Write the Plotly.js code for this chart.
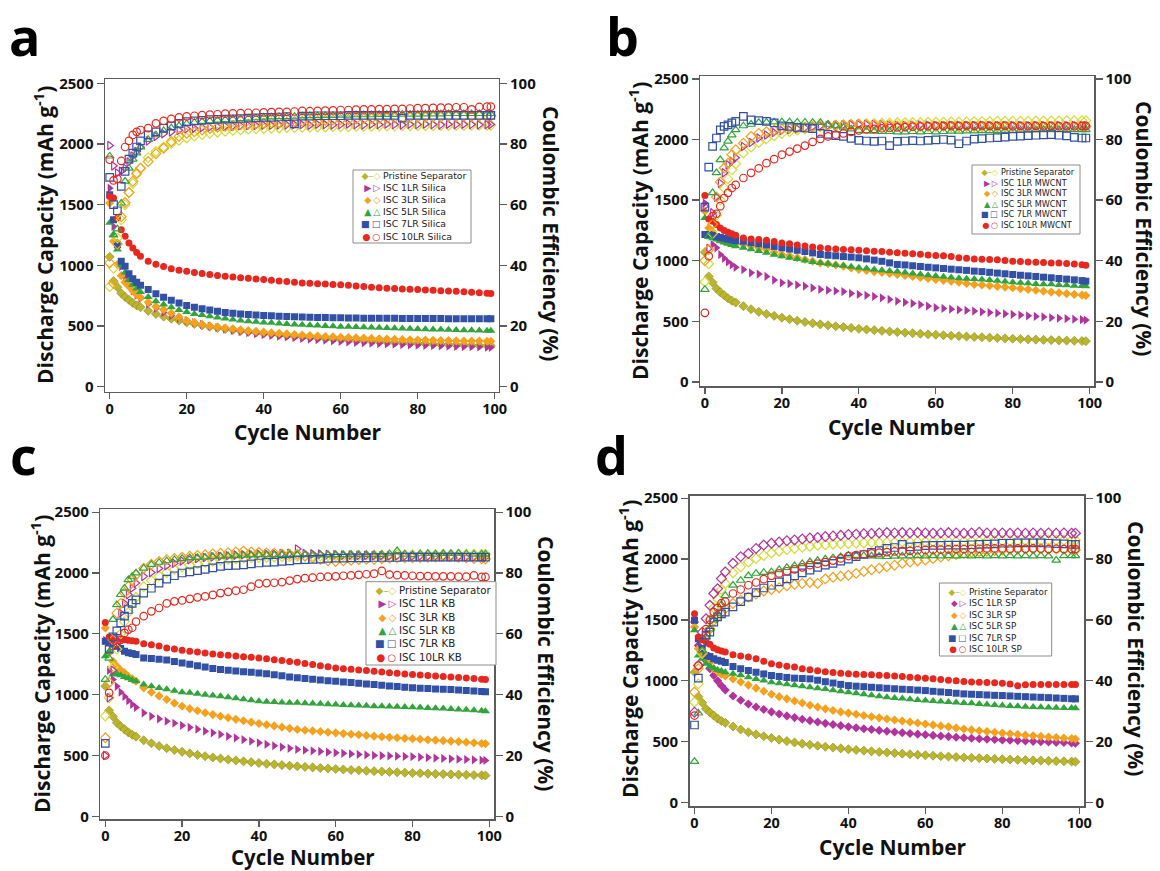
<!DOCTYPE html>
<html><head><meta charset="utf-8">
<script src="https://cdn.plot.ly/plotly-3.0.1.min.js"></script>
<style>html,body{margin:0;padding:0;background:#fff}#chart{width:1160px;height:871px}</style>
</head><body><div id="chart"></div>
<script>
// ---------------- DATA ----------------
const cycles = [0,1,2,3,4,5,6,7,8,
 10,12,14,16,18,20,22,24,26,28,30,32,34,36,38,40,42,44,46,48,50,52,54,56,58,60,62,64,66,68,70,72,74,76,78,80,82,84,86,88,90,92,94,96,98,
 99];

const seriesLabels = ['Pristine Separator','ISC 1LR','ISC 3LR','ISC 5LR','ISC 7LR','ISC 10LR'];
const panelSuffix = ['Silica','MWCNT','KB','SP'];
const panelLetters = ['a','b','c','d'];
const capTickVals = [0,500,1000,1500,2000,2500];
const ceTickVals = [0,20,40,60,80,100];
const cycleTickVals = [0,20,40,60,80,100];

// Pristine separator (same cell in every panel)
const pristineCap = [1070,870,820,770,740,715,690,670,655,
 625,600,578,560,545, 530,517,505,494,484, 475,467,459,452,445, 438,432,427,421,416, 411,406,402,397,393, 389,385,381,378,374, 371,368,365,362,359, 356,354,351,349,347, 345,343,341,339,337,
 336];
const pristineCE = [33,39,49,55,60,64,67,70,72,
 75.5,77.5,79,80.2,81.2, 82,82.6,83.1,83.5,83.9, 84.2,84.5,84.7,84.9,85, 85.1,85.2,85.3,85.4,85.4, 85.5,85.5,85.6,85.6,85.7, 85.7,85.7,85.8,85.8,85.8, 85.9,85.9,85.9,86,86, 86,86,86,86.1,86.1, 86.1,86.1,86.2,86.2,86.2,
 86.2];

// Panel a : Silica
const a1Cap = [1636,1321,1150,990,900,840,790,755,725,
 680,645,612,585,563, 545,528,513,500,487, 475,464,454,445,437, 430,423,416,410,404, 398,393,388,383,378, 373,369,365,362,358, 355,352,350,347,345, 343,341,339,337,335, 333,331,330,328,326,
 325];
const a3Cap = [1513,1198,1006,915,860,828,790,760,735,
 695,660,635,605,575, 545,530,515,502,493, 485,477,469,462,456, 450,445,440,435,430, 425,421,418,414,411, 408,405,403,400,398, 395,393,391,389,387, 385,384,382,381,380, 378,377,376,376,375,
 375];
const a5Cap = [1350,1250,1130,1000,940,880,840,810,780,
 740,705,678,655,633, 615,600,590,580,570, 561,553,546,540,535, 530,526,521,517,513, 510,507,504,501,498, 495,493,491,489,487, 485,483,481,479,477, 475,474,472,471,470, 468,466,465,463,461,
 460];
const a7Cap = [1582,1376,1170,1033,992,930,890,860,835,
 800,765,738,712,690, 670,655,643,633,622, 612,605,600,595,591, 587,584,581,578,576, 574,572,571,570,569, 568,567,566,565,564, 564,563,563,562,562, 562,561,561,561,560, 560,560,560,559,559,
 559];
const a10Cap = [1568,1554,1390,1294,1239,1184,1143,1105,1074,
 1033,1010,990,972,960, 951,942,933,925,917, 910,904,898,893,888, 883,877,871,866,860, 855,852,849,846,843, 840,835,830,825,820, 815,812,809,806,803, 800,797,794,791,788, 786,783,779,775,770,
 767];
const a1CE = [79.5,72.8,70.4,71,72,74,76,77.5,79,
 81,82.5,83.4,84,84.5, 85,85.2,85.4,85.5,85.7, 85.8,85.9,86,86.1,86.1, 86.2,86.2,86.3,86.3,86.4, 86.4,86.2,86.5,86.4,86.3, 86.4,86.6,86.4,86.3,86.5, 86.4,86.6,86.4,86.3,86.5, 86.4,86.6,86.4,86.3,86.5, 86.4,86.5,86.4,86.3,86.4,
 86.4];
const a3CE = [40.8,34,47,56,60.7,64,67.7,70.4,72,
 74.2,76.8,78.6,80.8,82.5, 83.5,84,84.6,85.1,85.5, 85.8,86,86.3,86.5,86.7, 86.8,87,87.1,87.2,87.4, 87.5,87.6,87.7,87.8,87.9, 88,88.1,88.2,88.3,88.4, 88.4,88.5,88.6,88.6,88.7, 88.8,88.8,88.9,88.9,89, 89,89.1,89.1,89.2,89.2,
 89.2];
const a5CE = [76,50,52,60.5,67.7,72,75,77,79,
 81.5,83,84.4,85.3,86, 86.7,87.1,87.4,87.6,87.8, 88,88.2,88.3,88.5,88.6, 88.8,88.9,89,89,89.1, 89.2,89.3,89.3,89.4,89.4, 89.5,89.5,89.6,89.6,89.6, 89.7,89.7,89.7,89.8,89.8, 89.8,89.9,89.9,89.9,90, 90,90,90,90,90,
 90];
const a7CE = [69,60,58,66,71,75,77,79,81,
 83,84,85.2,86,86.8, 87.4,87.6,87.8,88,88.1, 88.2,88.3,88.4,88.5,88.6, 88.8,88.8,88.9,89,86.6, 89.2,89.2,89.3,89.3,89.3, 89.3,89.4,89.4,89.4,89.4, 89.4,89.4,89.4,88.5,89.4, 89.4,89.4,89.4,89.4,89.4, 89.4,89.4,89.4,89.4,89.4,
 89.4];
const a10CE = [74.8,68,68.5,74.4,79,81,83,84,84.6,
 85.2,86.8,87.6,88.3,88.8, 89.1,89.3,89.5,89.7,89.8, 90,90.1,90.2,90.3,90.3, 90.4,90.5,90.6,90.6,90.7, 90.9,90.8,90.9,91,91.1, 91.2,91.2,91.3,91.4,91.4, 91.5,91.5,91.6,91.6,91.7, 91.8,91.8,91.9,92,92, 92.1,92.1,91.4,92.2,92.3,
 92.3];

// Panel b : MWCNT
const b1Cap = [1476,1210,1133,1106,1051,1020,990,965,945,
 927,900,890,870,840, 818,810,800,790,775, 763,757,750,745,730, 722,714,705,694,680, 667,657,647,637,626, 612,606,600,595,590, 584,578,572,567,562, 557,551,545,540,536, 530,526,522,517,513,
 510];
const b3Cap = [1408,1270,1240,1188,1175,1160,1152,1145,1140,
 1133,1120,1105,1090,1070, 1051,1040,1025,1010,995, 982,975,965,955,940, 927,920,910,903,895, 886,878,870,862,854, 845,838,830,822,812, 804,800,794,788,782, 777,770,763,756,748, 741,735,728,722,716,
 713];
const b5Cap = [1353,1202,1185,1175,1160,1150,1140,1130,1120,
 1106,1095,1080,1065,1050, 1037,1025,1015,1002,990, 982,974,965,958,950, 941,935,928,922,916, 910,902,895,888,880, 873,868,862,856,852, 850,845,840,835,829, 823,818,813,808,806, 805,800,797,794,792,
 790];
const b7Cap = [1216,1215,1210,1200,1192,1185,1178,1172,1166,
 1161,1150,1140,1130,1118, 1106,1096,1086,1076,1064, 1051,1045,1040,1034,1030, 1024,1015,1005,995,982, 969,965,958,952,946, 941,936,930,925,920, 914,910,904,898,892, 886,880,875,870,864, 859,853,848,842,836,
 831];
const b10Cap = [1537,1345,1325,1298,1270,1250,1235,1222,1210,
 1188,1180,1175,1169,1158, 1147,1140,1130,1122,1114, 1106,1100,1097,1093,1090, 1087,1083,1079,1075,1070, 1065,1062,1058,1054,1048, 1043,1040,1035,1025,1020, 1015,1012,1010,1008,1002, 996,993,990,988,985, 982,980,977,972,967,
 963];
const b1CE = [58,44,55.8,61,65.6,69,71.7,72.8,74,
 77.7,79,80.5,81.5,82.3, 83,83.3,83.6,83.9,84.2, 84.5,84.6,84.7,84.8,84.9, 85,85,84.9,84.8,84.7, 84.6,84.6,84.7,84.8,84.7, 84.6,84.6,84.7,84.7,84.6, 84.6,84.7,84.6,84.5,84.6, 84.6,84.6,84.5,84.6,84.6, 84.5,84.6,84.5,84.6,84.5,
 84.5];
const b3CE = [40,43.7,52,61,66,70.6,72.2,75,76.6,
 78.8,81,82,82.6,83.1, 83.5,83.7,83.9,84.1,84.3, 84.5,84.6,84.7,84.8,84.9, 85,84.9,84.8,84.7,84.6, 84.5,84.4,84.5,84.4,84.3, 84.3,84.4,84.3,84.2,84.3, 84.3,84.2,84.3,84.3,84.2, 84.3,84.2,84.3,84.2,84.3, 84.3,84.2,84.3,84.3,84.2,
 84.3];
const b5CE = [30.5,48,62.4,69,73.3,77.2,79.4,81.5,83.2,
 84.5,85,85.6,85.7,85.8, 85.8,85.8,85.7,85.7,85.6, 85.6,85,84.5,84,83.5, 83,82.8,82.7,82.6,82.6, 82.5,82.5,82.6,82.5,82.6, 82.5,82.6,82.7,82.7,82.8, 82.8,82.9,82.9,83,83, 83,83.1,83.1,83.1,83.2, 83.2,83.2,83.2,83.2,83.2,
 83.2];
const b7CE = [57.7,70.9,77.7,80.5,83.2,84.3,84.8,85.5,86,
 87.6,86.5,86.2,86,85.5, 84.5,84.3,84,83.8,83.6, 82,81.7,81.3,81,80.4, 79.7,79.5,79.4,79.5,78, 79.4,79.5,79.6,79.5,79.7, 79.9,80,79.8,78.6,79.5, 80.1,80.3,80.5,80.6,80.8, 81,81.1,81.3,81.4,81.5, 81.6,81.4,81.2,80.7,80.5,
 80.5];
const b10CE = [22.8,41.5,54.7,55.5,58,60.7,62.4,64,65,
 67.3,69,70.5,72.2,73.5, 75,76,77,78,79.2, 80.2,81,81.6,82,82.5, 83,83.3,83.5,83.7,83.8, 84,84.1,84.2,84.3,84.4, 84.5,84.5,84.6,84.5,84.6, 84.5,84.6,84.5,84.5,84.6, 84.4,84.5,84.4,84.5,84.4, 84.5,84.4,84.4,84.4,84.5,
 84.5];

// Panel c : KB
const c1Cap = [1447,1200,1124,1069,1020,985,950,920,895,
 850,822,800,782,765, 747,731,716,700,686, 673,658,644,630,617, 604,592,580,569,559, 550,544,538,533,527, 522,518,513,509,504, 500,498,496,494,492, 490,486,483,479,476, 473,470,467,464,461,
 459];
const c3Cap = [1548,1343,1274,1233,1200,1179,1150,1130,1110,
 1056,1020,990,960,930, 905,885,868,851,836, 823,810,797,785,774, 763,753,743,733,723, 714,708,702,697,691, 686,680,675,670,664, 659,654,650,646,641, 637,633,629,626,622, 618,614,609,604,599,
 596];
const c5Cap = [1316,1357,1165,1170,1160,1146,1135,1120,1110,
 1083,1070,1055,1045,1032, 1020,1015,1008,1000,993, 987,979,971,962,954, 946,942,939,936,934, 933,930,928,925,922, 919,916,913,911,908, 905,904,902,900,898, 897,894,891,888,886, 883,879,875,871,867,
 864];
const c7Cap = [1439,1425,1415,1398,1380,1357,1345,1338,1330,
 1302,1298,1292,1285,1272, 1261,1250,1238,1227,1216, 1206,1200,1194,1189,1184, 1179,1171,1163,1155,1146, 1138,1132,1127,1121,1115, 1110,1105,1099,1094,1088, 1083,1078,1072,1067,1061, 1056,1053,1050,1047,1044, 1042,1038,1034,1030,1026,
 1023];
const c10Cap = [1594,1474,1466,1460,1456,1452,1448,1444,1440,
 1419,1410,1400,1384,1375, 1365,1357,1350,1342,1335, 1329,1323,1318,1312,1307, 1302,1295,1288,1280,1273, 1266,1257,1248,1238,1229, 1220,1214,1209,1203,1198, 1192,1187,1181,1176,1170, 1165,1161,1157,1153,1150, 1146,1142,1137,1132,1127,
 1124];
const c1CE = [20,39,48,58,66.8,70,72.9,75,76.7,
 78.9,80.2,81.5,82.4,83.2, 84,84.4,84.8,85.1,85.3, 85.5,85.7,85.9,86,86.1, 86.2,86.3,86.3,86.4,86.5, 87.9,86.4,86.3,86.2,86.1, 86,85.9,85.9,85.8,85.8, 85.7,85.7,85.6,85.6,85.5, 85.5,85.5,85.4,85.4,85.3, 85.3,85.3,85.2,85.2,85.2,
 85.2];
const c3CE = [25.8,44,58,66.8,70,73.4,75.6,77.8,79.4,
 81.6,82.9,83.8,84.4,84.8, 85.2,85.5,85.8,86,86.3, 86.5,86.7,86.9,87.2,86.9, 86.8,86.6,86.5,86.3,86.2, 86.2,85.6,85,84.5,84, 83.8,84,84.2,84.4,84.5, 84.5,84.7,84.9,85,85, 85,85.1,85.2,85.3,85.4, 85.4,85.2,85,84.8,84.7,
 84.6];
const c5CE = [45,52,64.7,69.6,72.9,75,77.8,78.9,80,
 81.6,82.8,83.5,84,84.4, 84.8,85,85.1,85.2,85.4, 85.5,85.6,85.7,85.8,85.9, 86,86,86,86,86, 86,86,86,86,86, 86,86,86.1,86.1,86.1, 86,86.1,86.3,87.3,86.2, 86,86.3,86.4,86.2,86.4, 86.4,86.5,86.3,86.2,86.2,
 86.2];
const c7CE = [24,55,59,61,63.6,65.8,68,70,71.2,
 73.4,75,76.7,78,79.1, 80,80.4,80.8,81.2,81.7, 82.2,82.4,82.5,82.7,83, 83.3,83.5,83.6,83.8,84, 84.3,84.4,84.5,84.6,84.8, 84.9,84.9,85,85,85, 85.1,85.1,85.1,85.1,85.2, 85.2,85.2,85.2,85.2,85.2, 85.2,85.2,85.2,85.2,85.2,
 85.2];
const c10CE = [20,40.6,56,57,58,60.3,61.4,62,64,
 65.8,67.4,68.5,70,70.7, 71,71.5,72,72.3,72.8, 73.4,73.8,74.2,74.5,75.5, 76.5,76.7,76.8,77,77.5, 78,78.3,78.5,78.7,78.8, 78.9,79.1,79.2,79.4,79.6, 79.8,80.7,79.5,79.3,79.2, 79.1,79,79,78.9,78.9, 78.9,78.8,78.8,79.2,78.7,
 78.7];

// Panel d : SP
const d1Cap = [1483,1291,1236,1167,1100,1045,1000,960,925,
 875,840,810,785,765, 745,728,712,698,685, 673,662,651,641,632, 623,615,607,600,593, 586,580,574,568,562, 557,552,547,542,537, 533,529,525,521,518, 515,512,509,506,503, 500,498,495,493,490,
 488];
const d3Cap = [1442,1264,1222,1181,1150,1099,1075,1055,1040,
 1016,990,965,940,915, 890,870,852,835,818, 800,785,770,757,745, 735,725,715,705,696, 687,678,670,662,654, 646,638,630,622,613, 604,597,590,584,577, 571,565,560,554,549, 544,539,535,530,526,
 522];
const d5Cap = [1415,1209,1181,1140,1120,1104,1090,1080,1070,
 1058,1045,1030,1016,1002, 989,980,972,964,956, 948,940,932,923,915, 906,898,890,881,873, 865,860,854,849,843, 838,834,830,827,823, 819,815,810,806,801, 797,794,791,788,785, 783,781,779,777,776,
 775];
const d7Cap = [1497,1346,1264,1209,1200,1181,1170,1160,1150,
 1118,1100,1085,1071,1057, 1044,1036,1028,1022,1019, 1016,1005,993,982,971, 961,956,952,947,943, 939,935,931,928,924, 920,914,909,904,898, 893,890,887,884,881, 879,876,873,870,867, 865,862,859,856,853,
 852];
const d10Cap = [1552,1360,1346,1319,1300,1269,1255,1245,1236,
 1214,1205,1195,1181,1160, 1140,1130,1120,1113,1100, 1091,1083,1075,1068,1062, 1058,1055,1052,1049,1046, 1044,1040,1035,1030,1026, 1022,1017,1011,1005,1000, 994,991,989,987,984, 981,975,960,968,970, 970,970,970,970,970,
 970];
const d1CE = [29.7,45,56,60.4,64.8,68.7,70.3,73.6,75.8,
 78.6,80.8,81.8,83.5,84.6, 85.2,85.6,86,86.3,86.6, 86.9,87.1,87.4,87.6,87.8, 88.1,88.2,88.3,88.4,88.6, 88.7,88.6,88.7,88.6,88.7, 88.6,88.5,88.6,88.7,88.6, 88.5,88.6,88.8,88.6,88.5, 88.6,88.5,88.6,88.5,88.6, 88.5,88.6,88.5,88.6,88.5,
 88.5];
const d3CE = [36.3,44,49.4,55,57,59.8,61,62.5,63.7,
 65.4,66.5,67.5,68.5,69.5, 70,70.6,71.2,71.7,72, 72.3,72,73.5,74,74.4, 74.7,75.3,75.9,76.5,77, 77.5,78,78.6,79,79.4, 79.7,80.2,80.7,81.1,81.5, 81.9,82.2,82.4,82.6,82.8, 83,83.1,83.2,83.3,83.4, 83.5,83.4,83.3,83.2,83.1,
 83];
const d5CE = [13.5,29.4,50,54.4,57,60,62,65,68,
 71.4,73,74.5,75.3,75.6, 75.8,76.5,77.2,77.8,78.5, 79.1,79.5,80,80.4,80.8, 81.3,81.2,81.1,81,80.9, 80.8,80.9,81,81,81.1, 81,81.1,81,81.1,81, 81.1,81,81.1,81,81.1, 81,81.1,81,81.1,81, 81.1,81,79.6,81.1,81.1,
 81.1];
const d7CE = [25.5,40.9,52.7,55,56,59.3,61,62,62.6,
 64.3,66,67.5,69,70.5, 71.4,72.5,73.5,74.5,75.5, 76.4,77.3,78,78.6,79.3, 80,80.8,81.5,82.2,82.8, 83.5,83.8,84.8,84,84.2, 84.4,84.5,84.5,84.6,84.6, 84.6,84.7,84.8,84.9,85, 85.2,85.2,85.3,85.3,85.3, 85.3,85.2,85.1,85,84.8,
 84.8];
const d10CE = [28.6,45,53.8,57,60,62.6,64,65.5,66,
 68.7,70,71.4,72.3,73.4, 74.5,75.3,76,76.6,77.3, 78,78.5,79,79.5,80.2, 81,81.3,81.6,81.9,82.1, 82.3,82.5,82.6,82.7,82.9, 83,83.1,83.1,83.2,83.3, 83.3,83.4,83.4,83.5,83.5, 83.5,83.4,83.5,83.4,83.5, 83.4,83.3,83.4,83.3,83.3,
 83.3];

// ---------------- ASSEMBLY ----------------
const capData = [
  [pristineCap,a1Cap,a3Cap,a5Cap,a7Cap,a10Cap],
  [pristineCap,b1Cap,b3Cap,b5Cap,b7Cap,b10Cap],
  [pristineCap,c1Cap,c3Cap,c5Cap,c7Cap,c10Cap],
  [pristineCap,d1Cap,d3Cap,d5Cap,d7Cap,d10Cap]];
const ceData = [
  [pristineCE,a1CE,a3CE,a5CE,a7CE,a10CE],
  [pristineCE,b1CE,b3CE,b5CE,b7CE,b10CE],
  [pristineCE,c1CE,c3CE,c5CE,c7CE,c10CE],
  [pristineCE,d1CE,d3CE,d5CE,d7CE,d10CE]];

const styles = [
  {fs:'diamond', os:'diamond-open', fc:'#bab52c', oc:'#d3dd36', g1:'\u25C6', g2:'\u25C7'},
  {fs:'triangle-right', os:'triangle-right-open', fc:'#b3339d', oc:'#b3339d', g1:'\u25B6', g2:'\u25B7'},
  {fs:'diamond', os:'diamond-open', fc:'#f6a01c', oc:'#f6a01c', g1:'\u25C6', g2:'\u25C7'},
  {fs:'triangle-up', os:'triangle-up-open', fc:'#31a53c', oc:'#31a53c', g1:'\u25B2', g2:'\u25B3'},
  {fs:'square', os:'square-open', fc:'#3150a6', oc:'#3150a6', g1:'\u25A0', g2:'\u25A1'},
  {fs:'circle', os:'circle-open', fc:'#e8281f', oc:'#e8281f', g1:'\u25CF', g2:'\u25CB'}];

const W = 1160, H = 871;
// frame boxes (pixels) and tick reference pixels
const boxes = [
  {L:105,  R:498.5, T:79,    B:391.7, x0:109.7, x100:494.7,  y0:386.7, y2500:83.3},
  {L:700,  R:1094,  T:76,    B:386,   x0:704.9, x100:1089.7, y0:381.9, y2500:78.9},
  {L:100.4,R:494,   T:509,   B:819.3, x0:105.3, x100:489.3,  y0:816.3, y2500:512.2},
  {L:689.7,R:1084,  T:495.6, B:806,   x0:694.5, x100:1079.3, y0:802.6, y2500:498.2}];
const titlePos = [
  {lx:44, ly:235, rx:551, ry:233, cx:308, cy:432,   cs:21,   px:24,  py:35},
  {lx:638,ly:231, rx:1144,ry:228, cx:902, cy:427,   cs:21,   px:622, py:35},
  {lx:40, ly:664, rx:546, ry:663, cx:303, cy:857.3, cs:20.5, px:23,  py:455},
  {lx:628,ly:649, rx:1136,ry:648, cx:893, cy:847,   cs:21,   px:611, py:455}];
const legendBoxes = [
  {L:353, R:471,   T:170,  B:243, cy:206.1, tx:382,   sp:12.1},
  {L:972, R:1080,  T:165,  B:234, cy:198.8, tx:999.5, sp:10.6},
  {L:366, R:496,   T:581.7,B:665, cy:623.8, tx:397.5, sp:13.3},
  {L:939.4,R:1051.7,T:583, B:656, cy:620,   tx:967.5, sp:11.4}];

const px = v => v / W, py = v => 1 - v / H;
const axColor = '#5c5c5c';
const tickFontY = {family:'Open Sans', size:15, color:'#111', weight:'bold'};
const tickFontX = {family:'Open Sans', size:14.5, color:'#111', weight:'bold'};
const traces = [];
const layout = {
  width:W, height:H, margin:{l:0,r:0,t:0,b:0,pad:0},
  paper_bgcolor:'#ffffff', plot_bgcolor:'rgba(0,0,0,0)',
  showlegend:false, font:{family:'Open Sans', color:'#111'},
  annotations:[], shapes:[]};

for (let k = 0; k < 4; k++) {
  const b = boxes[k];
  const ppc = (b.x100 - b.x0) / 100, ppu = (b.y0 - b.y2500) / 2500;
  const xr = [(b.L - b.x0) / ppc, 100 + (b.R - b.x100) / ppc];
  const yr = [-(b.B - b.y0) / ppu, 2500 + (b.y2500 - b.T) / ppu];
  const xid = k === 0 ? 'x' : 'x' + (k + 1);
  const ylN = 2 * k + 1, yrN = 2 * k + 2;
  const ylid = ylN === 1 ? 'y' : 'y' + ylN, yrid = 'y' + yrN;
  const xkey = k === 0 ? 'xaxis' : 'xaxis' + (k + 1);
  const ylkey = ylN === 1 ? 'yaxis' : 'yaxis' + ylN, yrkey = 'yaxis' + yrN;
  const dx = [px(b.L), px(b.R)], dy = [py(b.B), py(b.T)];
  const common = {showgrid:false, zeroline:false, ticks:'outside', ticklen:7, tickwidth:1.3,
    tickcolor:axColor, showline:true, linecolor:axColor, linewidth:1.5, tickfont:tickFontY, fixedrange:true};
  layout[xkey] = Object.assign({}, common, {domain:dx, range:xr, anchor:ylid, tickvals:cycleTickVals,
    mirror:true, ticklen:6, tickfont:tickFontX, ticklabelstandoff:-3});
  layout[ylkey] = Object.assign({}, common, {domain:dy, range:yr, anchor:xid, tickvals:capTickVals});
  layout[yrkey] = Object.assign({}, common, {domain:dy, range:[yr[0]/25, yr[1]/25], anchor:xid,
    overlaying:ylid, side:'right', tickvals:ceTickVals});

  const st = styles.map(s => Object.assign({}, s));
  if (k === 3) { st[1].fs = 'diamond'; st[1].os = 'diamond-open'; st[1].g1 = '\u25C6'; }

  for (let s = 0; s < 6; s++) {
    traces.push({type:'scatter', mode:'markers', x:cycles, y:capData[k][s], xaxis:xid, yaxis:ylid,
      name:seriesLabels[s] + ' capacity', hoverinfo:'skip',
      marker:{symbol:st[s].fs, size:st[s].fs==='triangle-right'||st[s].fs==='triangle-up'?8:7, color:st[s].fc,
        line:{width:s===0?0.6:0, color:'#8d881c'}}});
  }
  for (let s = 0; s < 6; s++) {
    traces.push({type:'scatter', mode:'markers', x:cycles, y:ceData[k][s], xaxis:xid, yaxis:yrid,
      name:seriesLabels[s] + ' CE', hoverinfo:'skip',
      marker:{symbol:st[s].os, size:7.5, color:st[s].oc, line:{width:1.2, color:st[s].oc}}});
  }

  // axis titles and panel letter
  const t = titlePos[k];
  const tf = {family:'Open Sans', size:21, color:'#111', weight:'bold'};
  layout.annotations.push({xref:'paper', yref:'paper', x:px(t.lx), y:py(t.ly), xanchor:'center', yanchor:'middle',
    textangle:-90, showarrow:false, font:tf, text:'<b>Discharge Capacity (mAh g<sup>-1</sup>)</b>'});
  layout.annotations.push({xref:'paper', yref:'paper', x:px(t.rx), y:py(t.ry), xanchor:'center', yanchor:'middle',
    textangle:90, showarrow:false, font:tf, text:'<b>Coulombic Efficiency (%)</b>'});
  layout.annotations.push({xref:'paper', yref:'paper', x:px(t.cx), y:py(t.cy), xanchor:'center', yanchor:'middle',
    showarrow:false, font:Object.assign({}, tf, {size:t.cs}), text:'<b>Cycle Number</b>'});
  layout.annotations.push({xref:'paper', yref:'paper', x:px(t.px), y:py(t.py), xanchor:'center', yanchor:'middle',
    showarrow:false, font:{family:'Open Sans', size:52, color:'#000', weight:'bold'}, text:'<b>' + panelLetters[k] + '</b>'});

  // legend: box, one glyph block and one label block (six lines each)
  const lb = legendBoxes[k];
  const lfs = lb.sp / 1.3;
  layout.shapes.push({type:'rect', xref:'paper', yref:'paper', x0:px(lb.L), x1:px(lb.R), y0:py(lb.B), y1:py(lb.T),
    line:{color:'#8c8c8c', width:1}, fillcolor:'#ffffff', layer:'above'});
  const glyphLines = [], labelLines = [];
  for (let s = 0; s < 6; s++) {
    const mid = s === 0 ? '<span style="color:' + st[0].fc + '">\u2013</span>' : '\u2009';
    glyphLines.push('<span style="color:' + st[s].fc + '">' + st[s].g1 + '</span>' + mid +
                    '<span style="color:' + st[s].oc + '">' + st[s].g2 + '</span>');
    labelLines.push(s === 0 ? seriesLabels[0] : seriesLabels[s] + ' ' + panelSuffix[k]);
  }
  layout.annotations.push({xref:'paper', yref:'paper', x:px(lb.tx), y:py(lb.cy), xanchor:'right', yanchor:'middle',
    align:'right', showarrow:false, borderpad:0, font:{family:'DejaVu Sans', size:lfs, color:'#222'},
    text:glyphLines.join('<br>')});
  layout.annotations.push({xref:'paper', yref:'paper', x:px(lb.tx), y:py(lb.cy), xanchor:'left', yanchor:'middle',
    align:'left', showarrow:false, borderpad:0, font:{family:'DejaVu Sans', size:lfs, color:'#222'},
    text:labelLines.join('<br>')});
}

Plotly.newPlot('chart', traces, layout, {displayModeBar:false, staticPlot:true});
</script>
</body></html>
